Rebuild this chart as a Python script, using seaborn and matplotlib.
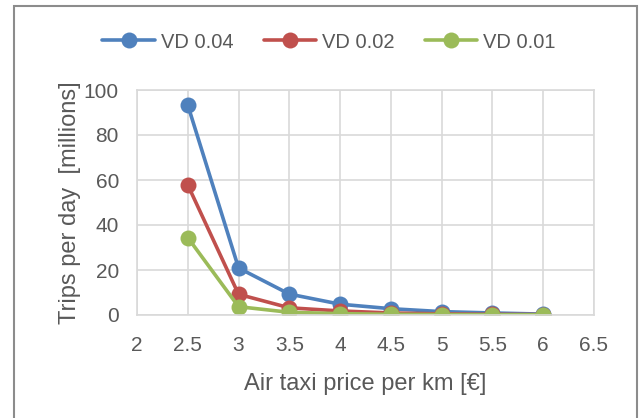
import matplotlib
matplotlib.use("Agg")
import matplotlib.pyplot as plt
import seaborn as sns
import pandas as pd
from matplotlib.patches import Rectangle

# data
price = [2.5, 3, 3.5, 4, 4.5, 5, 5.5, 6]
vd_004 = [93.3, 20.9, 9.3, 4.8, 2.8, 1.5, 0.9, 0.4]
vd_002 = [57.8, 9.2, 3.2, 1.8, 0.9, 0.5, 0.3, 0.2]
vd_001 = [34.4, 3.7, 1.2, 0.6, 0.3, 0.2, 0.1, 0.1]
series_names = ["VD 0.04", "VD 0.02", "VD 0.01"]
colors = ["#4F81BD", "#C0504D", "#9BBB59"]

df = pd.DataFrame({
    "price": price * 3,
    "trips": vd_004 + vd_002 + vd_001,
    "series": [n for n in series_names for _ in price],
})

sns.set_theme(style="white")
plt.rcParams["font.family"] = ["Liberation Sans", "DejaVu Sans"]
txt = "#595959"
grid = "#D9D9D9"

fig = plt.figure(figsize=(6.39, 4.18), dpi=100)
ax = fig.add_axes([137 / 639, 1 - 315 / 418, (594 - 137) / 639, (315 - 90) / 418])

sns.lineplot(data=df, x="price", y="trips", hue="series", hue_order=series_names,
             palette=colors, marker="o", markersize=11.5, markeredgewidth=0,
             linewidth=2.6, ax=ax, legend=True)

ax.set_xlim(2, 6.5)
ax.set_ylim(0, 100)
ax.set_xticks([2, 2.5, 3, 3.5, 4, 4.5, 5, 5.5, 6, 6.5])
ax.set_xticklabels(["2", "2.5", "3", "3.5", "4", "4.5", "5", "5.5", "6", "6.5"])
ax.set_yticks([0, 20, 40, 60, 80, 100])
ax.grid(True, color=grid, linewidth=1.2)
ax.set_axisbelow(True)
for s in ax.spines.values():
    s.set_color(grid)
    s.set_linewidth(1.2)
ax.tick_params(axis="both", colors=txt, labelsize=15, length=0)
ax.tick_params(axis="x", pad=15)
ax.tick_params(axis="y", pad=13)
ax.set_xlabel("Air taxi price per km [€]", fontsize=17, color=txt, labelpad=13)
ax.set_ylabel("Trips per day  [millions]", fontsize=17, color=txt, labelpad=2)

handles, labels = ax.get_legend_handles_labels()
leg = fig.legend(handles, labels, loc="center", bbox_to_anchor=(0.515, 1 - 42 / 418),
                 ncol=3, frameon=False, fontsize=14.5, handlelength=2.6,
                 columnspacing=1.5, handletextpad=0.3)
for t in leg.get_texts():
    t.set_color(txt)
ax.get_legend().remove()

# chart-area border
fig.patches.append(Rectangle((14 / 639, -0.01), (637 - 14) / 639, 1 - 6 / 418 + 0.01,
                             transform=fig.transFigure, fill=False,
                             edgecolor="#8C8C8C", linewidth=1.5))

fig.savefig("out.png", dpi=100)
